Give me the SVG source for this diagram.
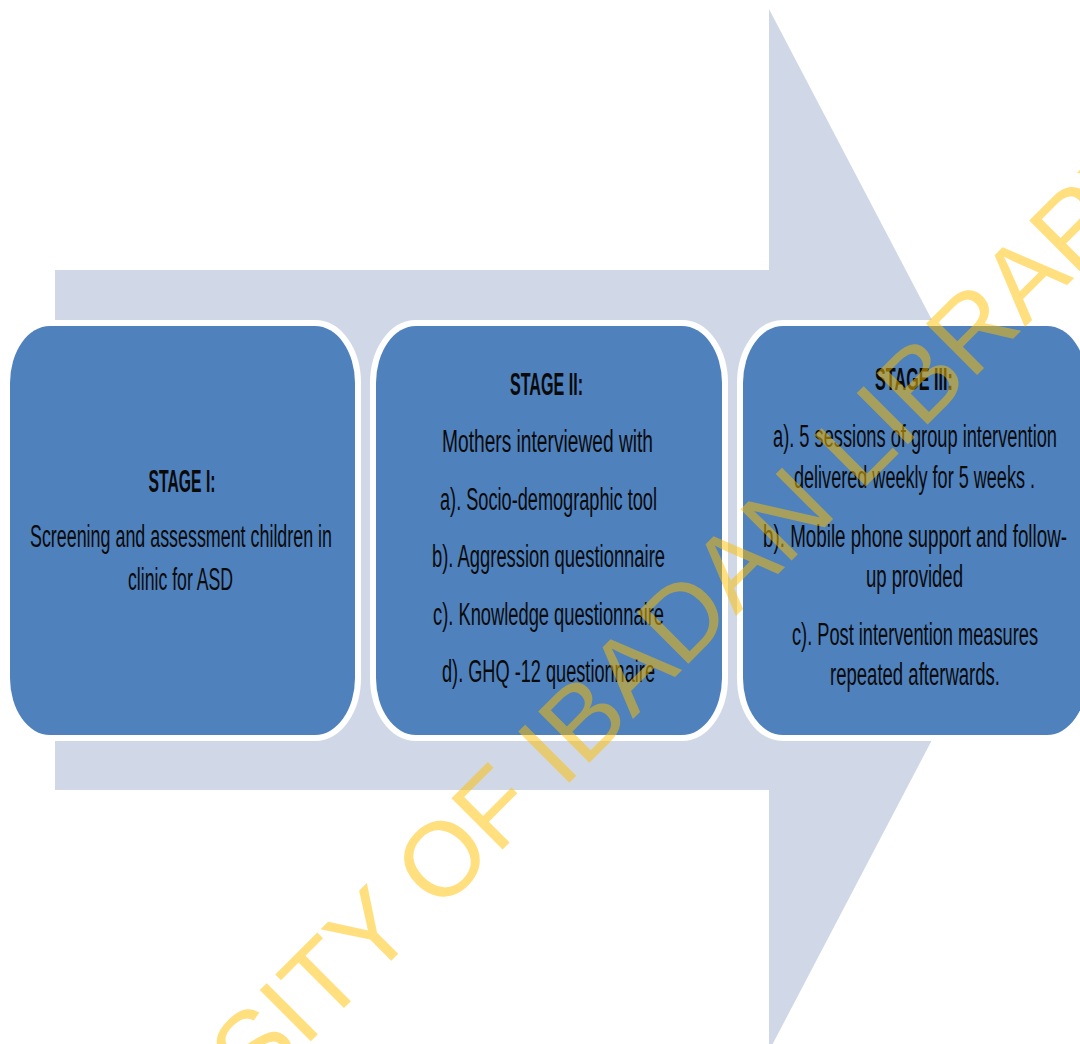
<svg xmlns="http://www.w3.org/2000/svg" width="1080" height="1044" viewBox="0 0 1080 1044">
  <style>
    .box { fill: #4F81BD; stroke: #FFFFFF; stroke-width: 12; paint-order: stroke; }
    .t { font-family: "Liberation Sans", Arial, sans-serif; font-size: 31px; fill: #0A0A0A; text-anchor: middle; }
    .h { font-weight: bold; font-size: 32px; }
    .wm { font-family: "Liberation Sans", Arial, sans-serif; font-size: 105px; fill: #FFC000; opacity: 0.5; }
  </style>
  <rect x="0" y="0" width="1080" height="1044" fill="#FFFFFF"/>
  <g id="connectors">
    <polygon id="big-arrow" points="55,270 769,270 769,9 1042,530 769,1051 769,790 55,790" fill="#D0D8E8"/>
  </g>
  <g id="stage1">
    <rect class="box" x="10" y="326" width="345" height="409" rx="40" ry="57"/>
    <text class="t h" x="182" y="492" textLength="67" lengthAdjust="spacingAndGlyphs">STAGE I:</text>
    <text class="t" x="181" y="547" textLength="302" lengthAdjust="spacingAndGlyphs">Screening and assessment children in</text>
    <text class="t" x="180.5" y="590" textLength="105" lengthAdjust="spacingAndGlyphs">clinic for ASD</text>
  </g>
  <g id="stage2">
    <rect class="box" x="376" y="326" width="346" height="409" rx="40" ry="57"/>
    <text class="t h" x="546.5" y="395" textLength="73" lengthAdjust="spacingAndGlyphs">STAGE II:</text>
    <text class="t" x="547.5" y="452" textLength="211" lengthAdjust="spacingAndGlyphs">Mothers interviewed with</text>
    <text class="t" x="548.5" y="510" textLength="217" lengthAdjust="spacingAndGlyphs">a). Socio-demographic tool</text>
    <text class="t" x="548.5" y="567" textLength="233" lengthAdjust="spacingAndGlyphs">b). Aggression questionnaire</text>
    <text class="t" x="548.5" y="625" textLength="231" lengthAdjust="spacingAndGlyphs">c). Knowledge questionnaire</text>
    <text class="t" x="548.5" y="682" textLength="213" lengthAdjust="spacingAndGlyphs">d). GHQ -12 questionnaire</text>
  </g>
  <g id="stage3">
    <rect class="box" x="743" y="326" width="344" height="409" rx="40" ry="57"/>
    <text class="t h" x="914" y="390" textLength="78" lengthAdjust="spacingAndGlyphs">STAGE III:</text>
    <text class="t" x="915" y="447" textLength="284" lengthAdjust="spacingAndGlyphs">a). 5 sessions of group intervention</text>
    <text class="t" x="914.5" y="488" textLength="241" lengthAdjust="spacingAndGlyphs">delivered weekly for 5 weeks .</text>
    <text class="t" x="915" y="547" textLength="304" lengthAdjust="spacingAndGlyphs">b). Mobile phone support and follow-</text>
    <text class="t" x="914.5" y="587" textLength="97" lengthAdjust="spacingAndGlyphs">up provided</text>
    <text class="t" x="915" y="645" textLength="246" lengthAdjust="spacingAndGlyphs">c). Post intervention measures</text>
    <text class="t" x="915" y="685" textLength="170" lengthAdjust="spacingAndGlyphs">repeated afterwards.</text>
  </g>
  <g id="watermark" transform="translate(-26,1378) rotate(-45)">
    <text class="wm" x="0" y="0">UNIVERSITY OF IBADAN LIBRARY</text>
  </g>
</svg>
